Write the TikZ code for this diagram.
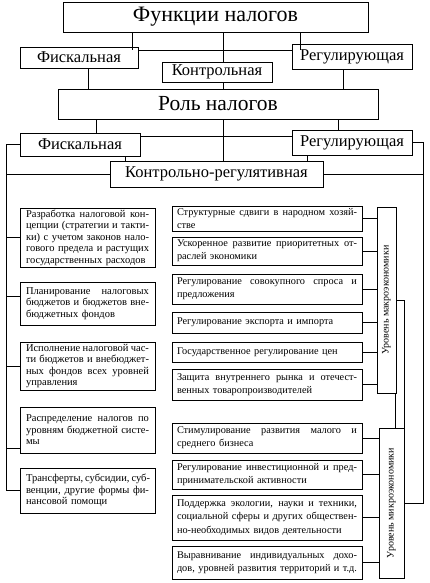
\documentclass[tikz,border=0pt]{standalone}
\usepackage{fontspec}
\setmainfont{Liberation Serif}
\setlength\parindent{0pt}
\newcommand{\jl}[1]{\leavevmode\hbox to 123pt{\spaceskip=0.25em plus 1fil minus 0.08em\relax #1}\\}
\newcommand{\jr}[1]{\leavevmode\hbox to 180pt{\spaceskip=0.25em plus 1fil minus 0.08em\relax #1}\\}
\newcommand{\jrlast}[1]{\leavevmode\hbox to 180pt{\spaceskip=0.25em plus 1fil minus 0.08em\relax #1}}
\newcommand{\fsb}{\fontsize{16.5}{18}\selectfont}
\begin{document}
\begin{tikzpicture}[x=1pt,y=-1pt]
\tikzset{
 ln/.style={line width=0.7pt},
 tbox/.style={draw, line width=0.8pt, inner sep=0pt, align=center},
 lbox/.style={draw, line width=0.7pt, inner xsep=6pt, inner ysep=0pt, text width=123pt, align=left, font=\fontsize{10.5}{11.5}\selectfont},
 rbox/.style={draw, line width=0.7pt, inner xsep=5pt, inner ysep=0pt, text width=180pt, align=left, font=\fontsize{10.3}{13}\selectfont},
 vbox/.style={draw, line width=0.7pt, inner sep=0pt},
 vtext/.style={rotate=90, font=\fontsize{10}{12}\selectfont, inner sep=0pt},
}
\useasboundingbox (0,0) rectangle (430,583);
% top levels
\node[tbox, minimum width=305pt, minimum height=30pt, font=\fontsize{22}{24}\selectfont] (fn) at (215.5,17) {Функции налогов};
\node[tbox, minimum width=118pt, minimum height=21pt, font=\fsb] (f1) at (79,57.5) {Фискальная};
\node[tbox, minimum width=120pt, minimum height=25pt, font=\fsb] (r1) at (352,56.5) {Регулирующая};
\node[tbox, minimum width=110pt, minimum height=20pt, font=\fsb] (k1) at (217,72) {Контрольная};
\node[tbox, minimum width=320pt, minimum height=30pt, font=\fontsize{21.5}{24}\selectfont] (rol) at (218,104) {Роль налогов};
\node[tbox, minimum width=120pt, minimum height=23pt, font=\fsb] (f2) at (80,144.5) {Фискальная};
\node[tbox, minimum width=120pt, minimum height=25pt, font=\fsb] (r2) at (352,142.5) {Регулирующая};
\node[tbox, minimum width=213pt, minimum height=26pt, font=\fsb] (kr) at (216.5,174) {Контрольно-регулятивная};
% left boxes
\node[lbox, minimum height=59pt] (L1) at (87.5,237.5) {\jl{Разработка налоговой кон-}\jl{цепции (стратегии и такти-}\jl{ки) с учетом законов нало-}\jl{гового предела и растущих}государственных расходов};
\node[lbox, minimum height=43pt] (L2) at (87.5,303.5) {\jl{Планирование налоговых}\jl{бюджетов и бюджетов вне-}бюджетных фондов};
\node[lbox, minimum height=48pt] (L3) at (87.5,366) {\jl{Исполнение налоговой час-}\jl{ти бюджетов и внебюджет-}\jl{ных фондов всех уровней}управления};
\node[lbox, minimum height=46pt] (L4) at (87.5,430) {\jl{Распределение налогов по}\jl{уровням бюджетной систе-}мы};
\node[lbox, minimum height=45pt] (L5) at (87.5,490.5) {\jl{Трансферты, субсидии, суб-}\jl{венции, другие формы фи-}нансовой помощи};
% right boxes
\node[rbox, minimum height=25pt] (R1) at (267,218.5) {\jr{Структурные сдвиги в народном хозяй-}стве};
\node[rbox, minimum height=28pt] (R2) at (267,251) {\jr{Ускоренное развитие приоритетных от-}раслей экономики};
\node[rbox, minimum height=30pt] (R3) at (267,289) {\jr{Регулирование совокупного спроса и}предложения};
\node[rbox, minimum height=21pt] (R4) at (267,322.5) {Регулирование экспорта и импорта};
\node[rbox, minimum height=20pt] (R5) at (267,352) {Государственное регулирование цен};
\node[rbox, minimum height=31pt] (R6) at (267,384.5) {\jr{Защита внутреннего рынка и отечест-}венных товаропроизводителей};
\node[rbox, minimum height=30pt] (R7) at (267,438) {\jr{Стимулирование развития малого и}среднего бизнеса};
\node[rbox, minimum height=29pt] (R8) at (267,474.5) {\jr{Регулирование инвестиционной и пред-}принимательской активности};
\node[rbox, minimum height=45pt, font=\fontsize{10.3}{13.5}\selectfont] (R9) at (267,517.5) {\jr{Поддержка экологии, науки и техники,}\jr{социальной сферы и других обществен-}но-необходимых видов деятельности};
\node[rbox, minimum height=33pt, font=\fontsize{10.3}{13.5}\selectfont] (R10) at (267,562.5) {\jr{Выравнивание индивидуальных дохо-}\jrlast{дов, уровней развития территорий и т.д.}};
% level boxes
\node[vbox, minimum width=19pt, minimum height=186pt] (mab) at (386.5,300) {};
\node[vtext] (mabt) at (mab.center) {Уровень макроэкономики};
\node[vbox, minimum width=25pt, minimum height=150pt] (mib) at (391.5,503) {};
\node[vtext] (mibt) at (mib.center) {Уровень микроэкономики};
% helper coordinates
\coordinate (lv) at (6,0);
\coordinate (rv) at (423,0);
\coordinate (j1) at (0,50);
\coordinate (j2) at (0,136);
\coordinate (c2) at ([yshift=7.5pt]L2.west);
\coordinate (c4) at ([yshift=-18pt]L4.west);
% level 1 connectors
\draw[ln] ([xshift=-83.5pt]fn.south) -- ([xshift=-83.5pt]fn.south |- j1);
\draw[ln] ([xshift=84.5pt]fn.south) -- ([xshift=84.5pt]fn.south |- j1);
\draw[ln] (f1.east |- j1) -- (r1.west |- j1);
\draw[ln] ([xshift=6pt]k1.north |- fn.south) -- ([xshift=6pt]k1.north);
\draw[ln] ([xshift=9pt]f1.south) -- ([xshift=9pt]f1.south |- rol.north);
\draw[ln] ([xshift=6pt]k1.south) -- ([xshift=6pt]k1.south |- rol.north);
\draw[ln] ([xshift=-9pt]r1.south) -- ([xshift=-9pt]r1.south |- rol.north);
% level 2 connectors
\draw[ln] ([xshift=-122pt]rol.south) -- ([xshift=-122pt]rol.south |- f2.north);
\draw[ln] ([xshift=5pt]rol.south) -- ([xshift=5pt]rol.south |- kr.north);
\draw[ln] ([xshift=120pt]rol.south) -- ([xshift=120pt]rol.south |- r2.north);
\draw[ln] (f2.east |- j2) -- (r2.west |- j2);
\draw[ln] ([xshift=45pt]f2.south) -- ([xshift=45pt]f2.south |- kr.north);
\draw[ln] ([xshift=-45pt]r2.south) -- ([xshift=-45pt]r2.south |- kr.north);
% left bracket
\draw[ln] (f2.west) -- (f2.west -| lv) -- (lv |- L5.west) -- (L5.west);
\draw[ln] (kr.west) -- (kr.west -| lv);
\draw[ln] (kr.east) -- (kr.east -| rv);
\draw[ln] (lv |- L1.west) -- (L1.west);
\draw[ln] (lv |- c2) -- (c2);
\draw[ln] (lv |- L3.west) -- (L3.west);
\draw[ln] (lv |- c4) -- (c4);
% right bracket
\draw[ln] (r2.east) -- (r2.east -| rv) -- (rv |- mib.east) -- (mib.east);
\draw[ln] (mab.east) -- (mab.east -| mib.east) -- (mib.east);
\draw[ln] ([xshift=-1.5pt]mab.south east) -- ([xshift=-1.5pt]mab.south east |- mib.north);
\foreach \n in {R1,R2,R3,R4,R5,R6} \draw[ln] (\n.east) -- (\n.east -| mab.west);
\foreach \n in {R7,R8,R9,R10} \draw[ln] (\n.east) -- (\n.east -| mib.west);
\end{tikzpicture}
\end{document}
